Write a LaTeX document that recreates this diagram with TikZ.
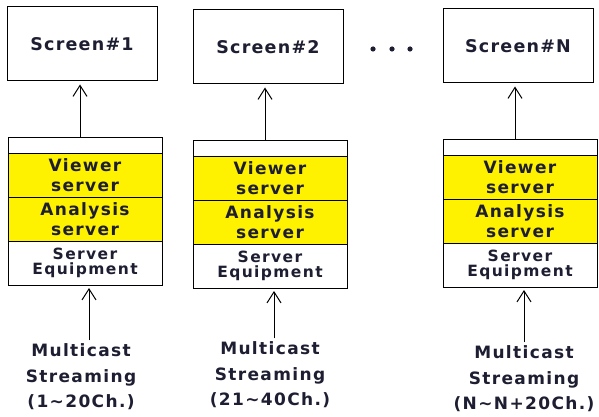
\documentclass[tikz,border=0pt]{standalone}
\usepackage{fontspec}
\usetikzlibrary{positioning,arrows.meta}
\newfontfamily\scrfont[LetterSpace=7]{DejaVu Sans}
\newfontfamily\diafont[LetterSpace=8]{DejaVu Sans}
\newfontfamily\eqfont[LetterSpace=9]{DejaVu Sans}
\definecolor{ink}{RGB}{30,30,50}

\begin{document}
\begin{tikzpicture}[x=1pt,y=-1pt,
  screen/.style={draw,line width=1pt,minimum width=150pt,minimum height=74pt,text=ink,
    font=\scrfont\bfseries\fontsize{17.5}{20}\selectfont},
  part/.style={draw,line width=1pt,minimum width=154pt,inner sep=0pt,outer sep=0pt,align=center,text=ink},
  hdr/.style={part,minimum height=16pt},
  srv/.style={part,fill=yellow,minimum height=44pt,font=\diafont\bfseries\fontsize{17}{20}\selectfont},
  equip/.style={part,minimum height=44pt,font=\eqfont\bfseries\fontsize{15.5}{15.5}\selectfont},
  src/.style={align=center,text=ink,font=\diafont\bfseries\fontsize{17}{25.5}\selectfont},
  arr/.style={-{Straight Barb[length=11pt,width=14pt]},line width=1pt,shorten >=3pt}]
  \useasboundingbox (0,0) rectangle (599,417);
  % one column per screen: screen, server stack, stream source
  \foreach \n/\sx/\sy/\bx/\by/\lx/\ly/\txt in {1/82/44/85/137/81/377/{1\textasciitilde 20Ch.},
      2/268/47/270/140/270/375/{21\textasciitilde 40Ch.},
      N/518/46/520/139/524/379/{N\textasciitilde N+20Ch.}}{
    \node[screen] (scr\n) at (\sx,\sy) {Screen\#\n};
    \node[hdr,anchor=north] (hd\n) at (\bx,\by) {};
    \node[srv,below=0pt of hd\n] (vw\n) {Viewer\\server};
    \node[srv,below=0pt of vw\n] (an\n) {Analysis\\server};
    \node[equip,below=0pt of an\n] (eq\n) {Server\\Equipment};
    \node[src] (mc\n) at (\lx,\ly) {Multicast\\Streaming\\(\txt)};
    \draw[arr] ([xshift=-5pt]hd\n.north) -- ([xshift=-5pt]hd\n.north |- scr\n.south);
    \draw[arr] ([xshift=4pt]eq\n.south |- mc\n.north) -- ([xshift=4pt]eq\n.south);
  }
  % more screens in between
  \foreach \x in {373,392,410}
    \fill[ink] (\x,49) circle (2.6pt);
\end{tikzpicture}
\end{document}
